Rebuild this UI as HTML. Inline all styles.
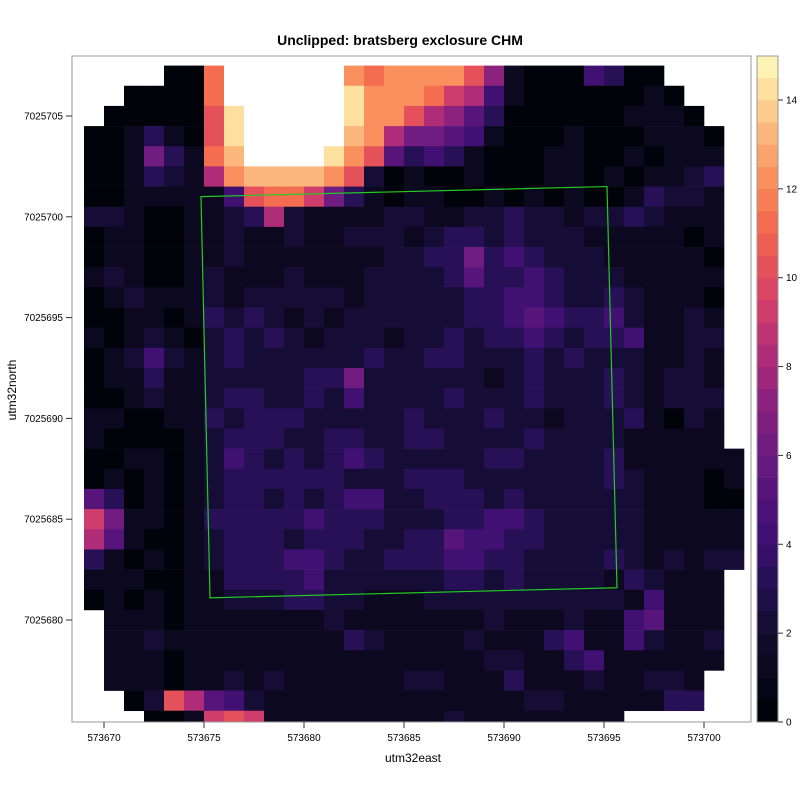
<!DOCTYPE html>
<html><head><meta charset="utf-8"><style>
body{margin:0;background:#fff;}
svg text{font-family:"Liberation Sans",sans-serif;}
</style></head><body>
<svg id="chart" width="800" height="800" viewBox="0 0 800 800">
<defs><clipPath id="plotclip"><rect x="72" y="56" width="679" height="666"/></clipPath></defs>
<text x="400" y="45" text-anchor="middle" font-size="14" font-weight="bold">Unclipped: bratsberg exclosure CHM</text>
<g id="cells" clip-path="url(#plotclip)"></g>
<g id="overlay" clip-path="url(#plotclip)"></g>
<rect x="72" y="56" width="679" height="666" fill="none" stroke="#999" stroke-width="1"/>
<g id="axes"></g>
<text x="413" y="762" text-anchor="middle" font-size="12">utm32east</text>
<text x="16" y="390" text-anchor="middle" font-size="12" transform="rotate(-90 16 390)">utm32north</text>
<g id="colorbar"></g>
</svg>
<script>
// grid of canopy heights (codes: 0-9,a-f = 0..15, w = above range, . = no data)
const gridRows = [
"....00bwwwwwwcbcccca710004300....",
"..0000bwwwwwwecccb984100000010...",
".00000aewwwwwecca87530000001110..",
"001310aewwwwwdc86654100010001110.",
"001631bdwwwweca534310001100101 11.".replace(' ',''),
"0013218cddddca201001000110101123.",
"00111114abb963101100101010013221.",
"22100112382111122112232212232111.",
"01100112112112221233232221111101.",
"01100112111111122336343222111110.",
"12100121112111222235334322211111.",
"01211121222221222223344322321110.",
"00110132321212222223345433421121.",
"10121023232122212232334323341122.",
"01242123222222322332223232221121.",
"01131122222336222222123222321221.",
"00121123322324222232223222321222.",
"11001132333222223222322122231021.",
"10000123332233223322223222211111.",
"001101243232343222223322223111111",
"010101233333322233322222223211101",
"530101233232344223332322222211100",
"961101333334333222334432222211111",
"851001233323332233544332222211111",
"310101233344322333443322223212122",
"11100113333422222233232222132111.",
"01010112223322111222222222214111.",
".1110111111121111111211121145111.",
".1121111111113211112111341142112.",
".1110111111111111111221134111111.",
".111011212111111221113111211221..",
"..02a85421111111111111221111133..",
"...0019a9111111111211111111......"
];
const codeValues = "0123456789abcdef";
// axis tick values
const xTicks = [573670, 573675, 573680, 573685, 573690, 573695, 573700];
const yTicks = [7025680, 7025685, 7025690, 7025695, 7025700, 7025705];
const cbTicks = [0, 2, 4, 6, 8, 10, 12, 14];
// boundary polygon (easting, northing)
const boundaryE = [573674.85, 573695.15, 573695.65, 573675.3];
const boundaryN = [7025701.0, 7025701.5, 7025681.6, 7025681.1];
const gridE0 = 573669, gridN0 = 7025707.5, cellSize = 1, zMax = 15;

const NS = "http://www.w3.org/2000/svg";
function xs(e){ return 104 + (e - 573670) * 20; }
function ys(n){ return 116 - (n - 7025705) * 20.16; }
function cb(v){ return 722 - v * 44.43; }
const stops = ["#000004","#08061a","#120c2e","#22104f","#3b0f70","#50137a","#6a1b80","#85207f","#a6287a","#c83870","#e04a5e","#f2644f","#f98657","#fcad74","#fdd595","#fcfdbf"];
function hex(h){ return [1,3,5].map(i=>parseInt(h.substr(i,2),16)); }
function magma(v){
  let q = Math.max(0, Math.min(zMax, Math.floor(v*2)/2 + 0.25));
  const i = Math.min(14, Math.floor(q)), f = q - i;
  const a = hex(stops[i]), b = hex(stops[i+1]);
  return "rgb(" + a.map((c,k)=>Math.round(c+(b[k]-c)*f)).join(",") + ")";
}
function mk(tag, attrs, parent){
  const el = document.createElementNS(NS, tag);
  for (const k in attrs) el.setAttribute(k, attrs[k]);
  parent.appendChild(el); return el;
}
const cells = document.getElementById("cells");
gridRows.forEach((row, r) => {
  for (let c = 0; c < row.length; c++) {
    const ch = row[c];
    if (ch === ".") continue;
    const v = ch === "w" ? 99 : codeValues.indexOf(ch);
    if (v < 0) continue;
    const x1 = xs(gridE0 + c*cellSize), x2 = xs(gridE0 + (c+1)*cellSize);
    const y1 = ys(gridN0 - r*cellSize), y2 = ys(gridN0 - (r+1)*cellSize);
    const rect = mk("rect", {x:x1, y:y1, width:x2-x1+0.3, height:y2-y1+0.3, fill: v>zMax ? "#ffffff" : magma(v)}, cells);
    
    
  }
});
const overlay = document.getElementById("overlay");
const poly = mk("polygon", {points: boundaryE.map((e,i)=>xs(e)+","+ys(boundaryN[i])).join(" "), fill:"none", stroke:"#22cc22", "stroke-width":1.2}, overlay);



const axes = document.getElementById("axes");
xTicks.forEach(t => {
  const x = xs(t);
  const l = mk("line", {x1:x, x2:x, y1:722, y2:728, stroke:"#333"}, axes);
  
  
  const tx = mk("text", {x:x, y:741, "text-anchor":"middle", "font-size":10}, axes);
  tx.textContent = t;
  
  
});
yTicks.forEach(t => {
  const y = ys(t);
  const l = mk("line", {x1:66, x2:72, y1:y, y2:y, stroke:"#333"}, axes);
  
  
  const tx = mk("text", {x:63, y:y+3.5, "text-anchor":"end", "font-size":10}, axes);
  tx.textContent = t;
  
  
});
const cbg = document.getElementById("colorbar");
for (let v = 0; v < zMax; v += 0.5) {
  const r = mk("rect", {x:757, y:cb(v+0.5), width:21, height:cb(v)-cb(v+0.5)+0.3, fill:magma(v+0.01)}, cbg);
  
  
}
const frame = mk("rect", {x:757, y:56, width:21, height:666, fill:"none", stroke:"#999"}, cbg);


cbTicks.forEach(t => {
  const y = cb(t);
  const l = mk("line", {x1:778, x2:783, y1:y, y2:y, stroke:"#333"}, cbg);
  
  
  const tx = mk("text", {x:786, y:y+3.5, "font-size":10}, cbg);
  tx.textContent = t;
  
  
});
</script>
</body></html>
